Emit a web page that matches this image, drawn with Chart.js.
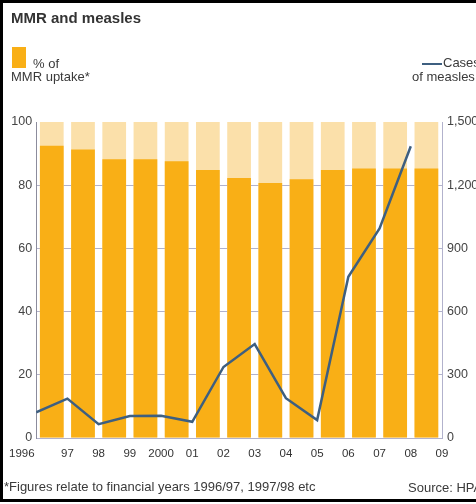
<!DOCTYPE html>
<html>
<head>
<meta charset="utf-8">
<script src="https://cdn.jsdelivr.net/npm/chart.js@4.4.1/dist/chart.umd.min.js"></script>
<style>
  html, body { margin: 0; padding: 0; background: #fff; width: 476px; height: 504px; overflow: hidden; }
  #frame { position: absolute; left: 0; top: 0; width: 520px; height: 496px; border: 3px solid #000; }
  #chart { position: absolute; left: 0; top: 0; }
  .t { position: absolute; white-space: nowrap; font-family: "Liberation Sans", Arial, sans-serif; color: #3a3a3a; font-size: 13px; line-height: 13px; }
  #title { left: 11px; top: 10px; font-size: 15px; line-height: 15px; font-weight: bold; color: #333; }
  #sq { position: absolute; left: 12px; top: 47px; width: 14px; height: 21px; background: #F9AF16; }
  #ln { position: absolute; left: 422px; top: 63px; width: 20px; height: 2px; background: #3e5f80; }
</style>
</head>
<body>
<div id="frame"></div>
<canvas id="chart" width="476" height="504"></canvas>
<div class="t" id="title">MMR and measles</div>
<div id="sq"></div>
<div class="t" style="left:33px; top:57px;">% of</div>
<div class="t" style="left:11px; top:70px;">MMR uptake*</div>
<div id="ln"></div>
<div class="t" style="left:443px; top:56px;">Cases</div>
<div class="t" style="left:412px; top:70px;">of measles</div>
<div class="t" style="left:4px; top:480px;">*Figures relate to financial years 1996/97, 1997/98 etc</div>
<div class="t" style="left:408px; top:481px;">Source: HPA</div>
<script>
// Tick labels at financial-year boundaries
const yearLabels = ['1996', '97', '98', '99', '2000', '01', '02', '03', '04', '05', '06', '07', '08', '09'];
// % of MMR uptake, financial years 1996/97 ... 2008/09 (bars between boundaries)
const uptake = [92.5, 91.3, 88.2, 88.2, 87.6, 84.8, 82.3, 80.7, 81.9, 84.8, 85.3, 85.3, 85.3];
// Full-scale background bars (100%)
const fullScale = [100, 100, 100, 100, 100, 100, 100, 100, 100, 100, 100, 100, 100];
// Cases of measles at year boundaries 1996 ... 2008
const cases = [122, 187, 66, 104, 106, 77, 337, 446, 189, 85, 765, 995, 1385];
const pctTicks = [0, 20, 40, 60, 80, 100];
const caseTicks = [0, 300, 600, 900, 1200, 1500];

const ORANGE = '#F9AF16';
const PALE = '#FBE0AA';
const LINE = '#3e5f80';
const GRID = '#b2b2cc';
const regular = "'Liberation Sans', Arial, sans-serif";

new Chart(document.getElementById('chart'), {
  type: 'bar',
  data: {
    datasets: [
      {
        type: 'line',
        data: cases.map((v, i) => ({ x: i, y: v })),
        yAxisID: 'y2',
        borderColor: LINE,
        borderWidth: 2.5,
        pointRadius: 0,
        tension: 0,
        order: 0
      },
      {
        data: uptake.map((v, i) => ({ x: i + 0.5, y: v })),
        backgroundColor: ORANGE,
        grouped: false,
        categoryPercentage: 1,
        barPercentage: 0.76,
        borderWidth: 0,
        yAxisID: 'y',
        order: 1
      },
      {
        data: fullScale.map((v, i) => ({ x: i + 0.5, y: v })),
        backgroundColor: PALE,
        grouped: false,
        categoryPercentage: 1,
        barPercentage: 0.76,
        borderWidth: 0,
        yAxisID: 'y',
        order: 2
      }
    ]
  },
  options: {
    responsive: false,
    animation: false,
    layout: { padding: { top: 122, bottom: 36, left: 0, right: 0 } },
    plugins: { legend: { display: false }, tooltip: { enabled: false } },
    scales: {
      x: {
        type: 'linear',
        offset: false,
        min: 0,
        max: 13,
        grid: { display: false, drawTicks: false, offset: false },
        border: { display: true, color: GRID, width: 1 },
        afterBuildTicks: (s) => { s.ticks = yearLabels.map((_, i) => ({ value: i })); },
        ticks: {
          autoSkip: false, maxRotation: 0, padding: 9,
          font: { family: regular, size: 11.5 }, color: '#333',
          // first label sits left of the axis in the original
          callback: (v) => v === 0 ? yearLabels[v] + '\u2003\u2003\u2002' : yearLabels[v]
        },
        afterFit: (s) => { s.height = 30; }
      },
      y: {
        position: 'left',
        min: 0, max: 100,
        afterBuildTicks: (s) => { s.ticks = pctTicks.map(v => ({ value: v })); },
        grid: {
          drawTicks: false,
          color: (c) => (c.tick && c.tick.value === 100) ? 'rgba(0,0,0,0)' : GRID
        },
        border: { display: true, color: '#8c8c9c', width: 1 },
        ticks: { padding: 4, font: { family: regular, size: 12.5 }, color: '#444' },
        afterFit: (s) => { s.width = 33; }
      },
      y2: {
        position: 'right',
        min: 0, max: 1500,
        afterBuildTicks: (s) => { s.ticks = caseTicks.map(v => ({ value: v })); },
        grid: { display: false, drawTicks: false },
        border: { display: true, color: GRID, width: 1 },
        ticks: {
          padding: 5, font: { family: regular, size: 12.5 }, color: '#444',
          callback: (v) => v.toLocaleString('en-US')
        },
        afterFit: (s) => { s.width = 34; }
      }
    }
  }
});
</script>
</body>
</html>
